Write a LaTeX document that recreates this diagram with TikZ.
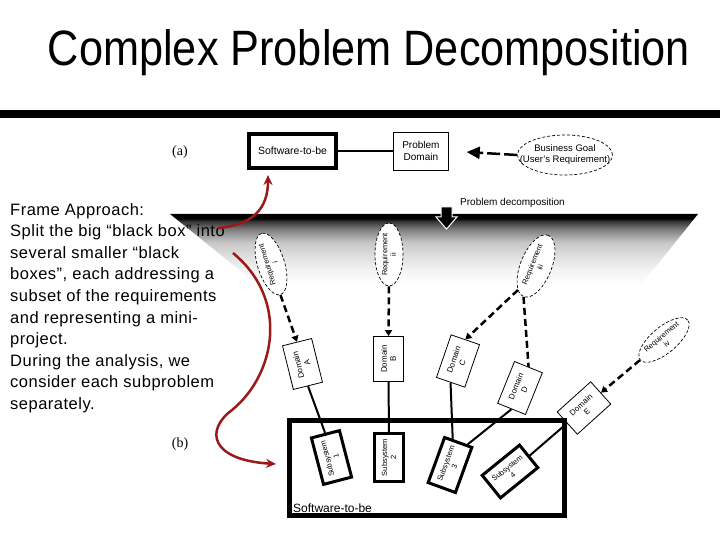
\documentclass[tikz,border=0pt]{standalone}
\usepackage{graphicx}
\usepackage{fontspec}
\setmainfont{Liberation Sans}
\newfontfamily\bodyfont[LetterSpace=3]{Liberation Sans}
\newfontfamily\labelfont{Liberation Serif}
\usepackage{tikz}
\usetikzlibrary{arrows.meta,positioning,shapes.geometric,calc}
\definecolor{curvered}{RGB}{155,25,25}
\pgfdeclareverticalshading{decompfade}{100bp}{color(0bp)=(white); color(25bp)=(white);
  color(36bp)=(black!5); color(45bp)=(black!12); color(55bp)=(black!22);
  color(64bp)=(black!50); color(70bp)=(black!80); color(72bp)=(black); color(100bp)=(black)}

\begin{document}
\begin{tikzpicture}[x=1pt, y=-1pt]
	\tikzstyle{frame}
	  =[draw, line width=4pt, rectangle, fill=white, minimum width=87pt,
	  minimum height=34pt, font=\fontsize{10.5}{12}\selectfont]
	\tikzstyle{domainbox}
	  =[draw, line width=0.8pt, rectangle, fill=white, align=center, inner sep=0pt,
	  minimum width=45pt, minimum height=30pt, font=\fontsize{8}{9}\selectfont]
	\tikzstyle{subbox}
	  =[draw, line width=3pt, rectangle, fill=white, align=center, inner sep=0pt,
	  minimum width=48pt, minimum height=29pt, font=\fontsize{7.5}{9}\selectfont]
	\tikzstyle{req}
	  =[draw, ellipse, dash pattern=on 3pt off 2pt, line width=0.7pt, fill=white,
	  align=center, inner xsep=-6pt, inner ysep=0pt, font=\fontsize{7.5}{8.5}\selectfont]
	\tikzstyle{reqlink}
	  =[line width=2.5pt, dash pattern=on 7pt off 4pt, -{Triangle[length=6pt,width=7pt]}]
	\tikzstyle{link}=[line width=2pt]
	\tikzstyle{redcurve}
	  =[curvered, line width=2.5pt, -{Stealth[length=10pt,width=9pt]}]

	\useasboundingbox (0,0) rectangle (720,540);

	% shaded band and heading
	\shade[shading=decompfade] (170,214) -- (698,214) -- (641,285) -- (258,285) -- cycle;
	\draw[line width=8pt] (0,114) -- (720,114);
	\node[anchor=base] (title)
	  at (369,66) {\resizebox{642pt}{36pt}{Complex Problem Decomposition}};

	\node[anchor=north west, inner sep=0pt, align=left,
	  font=\bodyfont\fontsize{16.5}{21.6}\selectfont] (frametext)
	  at (10,203) {Frame Approach:\\Split the big “black box” into\\several smaller “black\\boxes”, each addressing a\\subset of the requirements\\and representing a mini-\\project.\\During the analysis, we\\consider each subproblem\\separately.};

	\node[font=\labelfont\fontsize{14}{16}\selectfont] (lbla) at (180,152) {(a)};
	\node[font=\labelfont\fontsize{14}{16}\selectfont] (lblb) at (180,444) {(b)};

	% (a)
	\node[frame] (swtop)
	  at (292.5,151) {Software-to-be};
	\node[draw, line width=0.8pt, rectangle, minimum width=55pt, minimum height=38pt,
	  align=center, font=\fontsize{10}{12.3}\selectfont] (pdom)
	  [right=55pt of swtop] {Problem\\Domain};
	\node[draw, ellipse, dash pattern=on 3pt off 2pt, line width=0.7pt, minimum width=95pt,
	  minimum height=40pt, inner xsep=-16pt, inner ysep=0pt, align=center,
	  font=\fontsize{9.5}{11}\selectfont] (bgoal)
	  at (565,155) {Business Goal\\(User's Requirement)};
	\draw[link] (swtop.east) -- (pdom.west);
	\draw[line width=2.5pt, dash pattern=on 13pt off 4pt, shorten >=18pt,
	  -{Triangle[length=13pt,width=12pt]}] (bgoal.west) -- (pdom.east);

	% decomposition marker
	\node[anchor=base west, inner sep=0pt, font=\fontsize{10}{12}\selectfont] (decomp)
	  at (460,206) {Problem decomposition};
	\filldraw[fill=black, draw=white, line width=1pt] (441,207) -- (452,207) -- (452,217)
	  -- (457,217) -- (446.5,229) -- (436,217) -- (441,217) -- cycle;

	% requirements
	\node[req, rotate=107, minimum width=64pt, minimum height=27pt] (reqi)
	  at (271,264) {Requirement\\i};
	\node[req, rotate=90, minimum width=63pt, minimum height=28pt] (reqii)
	  at (389,254.5) {Requirement\\ii};
	\node[req, rotate=68, minimum width=66pt, minimum height=31pt] (reqiii)
	  at (536,266) {Requirement\\iii};
	\node[req, rotate=40, minimum width=62pt, minimum height=26pt] (reqiv)
	  at (664,340) {Requirement\\iv};

	% domains
	\node[domainbox, rotate=104] (domA) at (302.5,364) {Domain\\A};
	\node[domainbox, rotate=90] (domB) at (388.5,359) {Domain\\B};
	\node[domainbox, rotate=71] (domC) at (458,361) {Domain\\C};
	\node[domainbox, rotate=68] (domD) at (520,388) {Domain\\D};
	\node[domainbox, rotate=42] (domE) at (584,408) {Domain\\E};

	\draw[reqlink] (reqi.west) -- (domA.east);
	\draw[reqlink] (reqii.west) -- (domB.east);
	\draw[reqlink] (reqiii.165) -- (domC.east);
	\draw[reqlink, -] (reqiii.west) -- (domD.east);
	\draw[reqlink] (reqiv.west) -- (domE.east);

	% (b)
	\node[draw, line width=5pt, rectangle, minimum width=275pt, minimum height=95pt] (swbot)
	  at (427,468) {};
	\node[anchor=base west, inner sep=0pt, font=\fontsize{12}{14}\selectfont] (swbotlbl)
	  at (293,512) {Software-to-be};

	\node[subbox, rotate=104.6] (sub1) at (331.5,457.5) {Subsystem\\1};
	\node[subbox, rotate=90] (sub2) at (389,457.5) {Subsystem\\2};
	\node[subbox, rotate=70] (sub3) at (450,465) {Subsystem\\3};
	\node[subbox, rotate=39] (sub4) at (510,471.5) {Subsystem\\4};

	\draw[link] (domA.west) -- (sub1.east);
	\draw[link] (domB.west) -- (sub2.east);
	\draw[link] (domC.west) -- ($(sub3.east)!.4!(sub3.north east)$);
	\draw[link] (domD.west) -- ($(sub3.east)!.6!(sub3.south east)$);
	\draw[link] (domE.west) -- (sub4.east);

	% red curves
	\coordinate (redA) at (218,228);
	\coordinate (redB) at (233,253);
	\draw[redcurve] (redA) to[out=5, in=-90, looseness=1.2]
	  ([xshift=21pt, yshift=-5pt]swtop.south west);
	\draw[redcurve] (redB) .. controls (290,300) and (275,375) .. (232,410)
	  .. controls (205,430) and (210,460) .. ([xshift=-11pt, yshift=4pt]swbot.west);
\end{tikzpicture}
\end{document}
